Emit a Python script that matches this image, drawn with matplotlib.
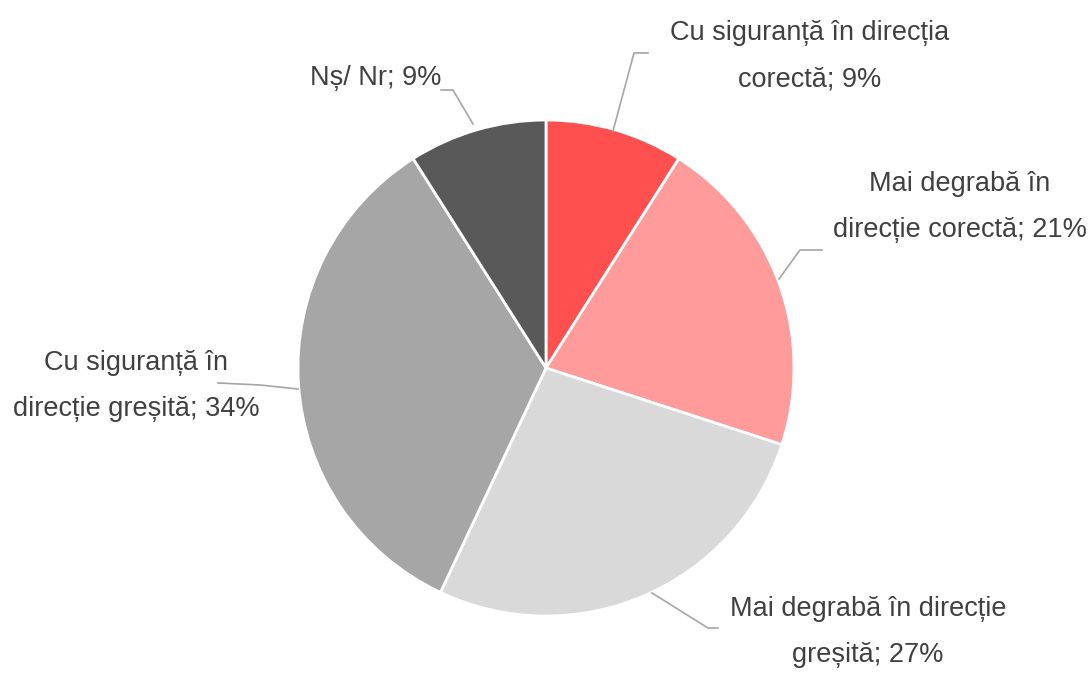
import matplotlib.pyplot as plt

plt.rcParams['font.family'] = ['Liberation Sans Narrow', 'Liberation Sans', 'DejaVu Sans']

labels = ["Cu siguranță în direcția\ncorectă",
          "Mai degrabă în\ndirecție corectă",
          "Mai degrabă în direcție\ngreșită",
          "Cu siguranță în\ndirecție greșită",
          "Nș/ Nr"]
values = [9, 21, 27, 34, 9]
colors = ["#FF5050", "#FF9B9B", "#D9D9D9", "#A6A6A6", "#595959"]

W, H = 1089, 675
def py(y):
    # pixel row -> data y (origin at bottom)
    return H - y

# label centres and leader lines, in pixels
text_pos = [(810, 56), (960, 207), (868, 632), (136, 386), (376, 78)]
leaders = [
    [(613, 131), (634, 53), (648, 53)],
    [(779, 279), (800, 250), (822, 250)],
    [(652, 593), (708, 628), (718, 628)],
    [(298, 389), (260, 385), (218, 383)],
    [(473, 124), (453, 90), (441, 90)],
]

fig = plt.figure(figsize=(W / 100, H / 100), dpi=100)
ax = fig.add_axes([0, 0, 1, 1])

ax.pie(values, colors=colors, startangle=90, counterclock=False,
       center=(546, py(368)), radius=248,
       wedgeprops=dict(edgecolor="white", linewidth=2))

ax.set_xlim(0, W)
ax.set_ylim(0, H)
ax.set_aspect("equal")
ax.axis("off")

for lab, v, (tx, ty), pts in zip(labels, values, text_pos, leaders):
    xs = [p[0] for p in pts]
    ys = [py(p[1]) for p in pts]
    ax.plot(xs, ys, color="#A6A6A6", lw=1.2)
    ax.text(tx, py(ty), f"{lab}; {v}%", ha="center", va="center",
            fontsize=19.5, color="#404040", linespacing=2.0)

fig.savefig("out.png", dpi=100)
